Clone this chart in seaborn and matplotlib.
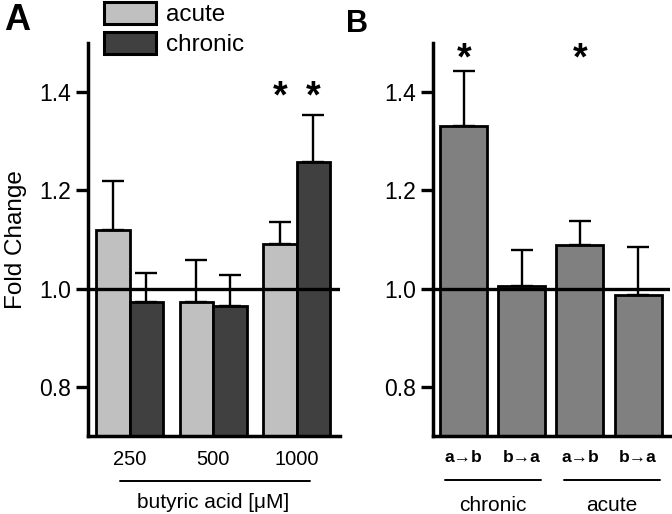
import numpy as np
import pandas as pd
import matplotlib
matplotlib.use("Agg")
import matplotlib.pyplot as plt
import matplotlib.transforms as mtransforms
from matplotlib.patches import Patch
import seaborn as sns

# --- data ---
conc = ["250", "500", "1000"]
acute_mean = [1.12, 0.972, 1.09]
acute_err = [0.10, 0.086, 0.045]
chronic_mean = [0.972, 0.964, 1.257]
chronic_err = [0.06, 0.063, 0.097]

dir_labels = ["a\u2192b", "b\u2192a", "a\u2192b", "b\u2192a"]
dir_groups = ["chronic", "chronic", "acute", "acute"]
dir_mean = [1.332, 1.005, 1.088, 0.987]
dir_err = [0.11, 0.073, 0.049, 0.097]

sns.set_style("ticks")
plt.rcParams["font.family"] = ["Liberation Sans", "DejaVu Sans"]
plt.rcParams.update({"text.color": "black", "axes.labelcolor": "black",
                     "xtick.color": "black", "ytick.color": "black",
                     "axes.edgecolor": "black"})

c_acute = "#c0c0c0"
c_chronic = "#404040"
c_dir = "#808080"

fig = plt.figure(figsize=(6.72, 5.14), dpi=100)
axA = fig.add_axes([88 / 672, 78 / 514, 252 / 672, 393 / 514])
axB = fig.add_axes([433 / 672, 78 / 514, 237 / 672, 393 / 514])

# --- panel A ---
dfA = pd.DataFrame({
    "conc": conc * 2,
    "value": acute_mean + chronic_mean,
    "cond": ["acute"] * 3 + ["chronic"] * 3,
})
sns.barplot(data=dfA, x="conc", y="value", hue="cond", order=conc,
            hue_order=["acute", "chronic"], palette=[c_acute, c_chronic],
            width=0.8, edgecolor="black", linewidth=2.0, ax=axA,
            legend=False, saturation=1)
for cont, errs in zip(axA.containers, [acute_err, chronic_err]):
    for bar, e in zip(cont, errs):
        xc = bar.get_x() + bar.get_width() / 2
        top = bar.get_height()
        axA.errorbar(xc, top, yerr=[[0], [e]], fmt="none", ecolor="black",
                     elinewidth=1.7, capsize=8, capthick=1.7, zorder=1)
# significance stars over 1000 uM
for bar in [axA.containers[0][2], axA.containers[1][2]]:
    axA.text(bar.get_x() + bar.get_width() / 2, 1.39, "*", ha="center",
             va="center", fontsize=27, fontweight="bold")

# --- panel B ---
dfB = pd.DataFrame({"pos": range(4), "value": dir_mean})
sns.barplot(data=dfB, x="pos", y="value", color=c_dir, width=0.81,
            edgecolor="black", linewidth=2.0, ax=axB, saturation=1)
for bar, e in zip(axB.containers[0], dir_err):
    xc = bar.get_x() + bar.get_width() / 2
    axB.errorbar(xc, bar.get_height(), yerr=[[0], [e]], fmt="none",
                 ecolor="black", elinewidth=1.7, capsize=8, capthick=1.7,
                 zorder=1)
for i in [0, 2]:
    axB.text(i, 1.467, "*", ha="center", va="center", fontsize=27,
             fontweight="bold")

# --- shared styling ---
for ax in (axA, axB):
    ax.set_ylim(0.7, 1.5)
    ax.set_yticks([0.8, 1.0, 1.2, 1.4])
    ax.set_yticklabels(["0.8", "1.0", "1.2", "1.4"])
    ax.axhline(1.0, color="black", lw=2.4, zorder=3)
    ax.tick_params(axis="y", length=9, width=2.4, labelsize=16.5, pad=3)
    ax.tick_params(axis="x", length=0, pad=10)
    for s in ["top", "right"]:
        ax.spines[s].set_visible(False)
    for s in ["left", "bottom"]:
        ax.spines[s].set_linewidth(2.5)
    ax.set_xlabel("")
    ax.set_ylabel("")

axA.set_xlim(-0.5, 2.52)
axA.set_xticks(range(3))
axA.set_xticklabels(conc, fontsize=14.5)
axB.set_xlim(-0.53, 3.55)
axB.set_xticks(range(4))
axB.set_xticklabels(dir_labels, fontsize=12.5, fontweight="bold")

axA.set_ylabel("Fold Change", fontsize=17.5)
axA.yaxis.set_label_coords(-0.242, 0.5)

# group underline + labels below x axis
trA = mtransforms.blended_transform_factory(axA.transData, axA.transAxes)
axA.plot([-0.12, 2.16], [-0.115, -0.115], color="black", lw=1.4,
         transform=trA, clip_on=False)
axA.text(1.0, -0.168, "butyric acid [\u03bcM]", ha="center", va="center",
         fontsize=15, transform=trA)

trB = mtransforms.blended_transform_factory(axB.transData, axB.transAxes)
for x0, x1, lab in [(-0.32, 1.33, "chronic"), (1.72, 3.37, "acute")]:
    axB.plot([x0, x1], [-0.112, -0.112], color="black", lw=1.4,
             transform=trB, clip_on=False)
    axB.text((x0 + x1) / 2, -0.178, lab, ha="center", va="center",
             fontsize=15, transform=trB)

# legend
handles = [Patch(facecolor=c_acute, edgecolor="black", lw=2.2, label="acute"),
           Patch(facecolor=c_chronic, edgecolor="black", lw=2.2, label="chronic")]
fig.legend(handles=handles, loc="upper left",
           bbox_to_anchor=(104 / 672, 1 - 2 / 514), frameon=False,
           fontsize=17.5, handlelength=2.15, handleheight=1.0,
           handletextpad=0.4, labelspacing=0.25, borderpad=0,
           borderaxespad=0)

# panel letters
fig.text(4 / 672, 1 - 3 / 514, "A", fontsize=26, fontweight="bold",
         ha="left", va="top")
fig.text(346 / 672, 1 - 9 / 514, "B", fontsize=22, fontweight="bold",
         ha="left", va="top")

fig.savefig("out.png", dpi=100)
